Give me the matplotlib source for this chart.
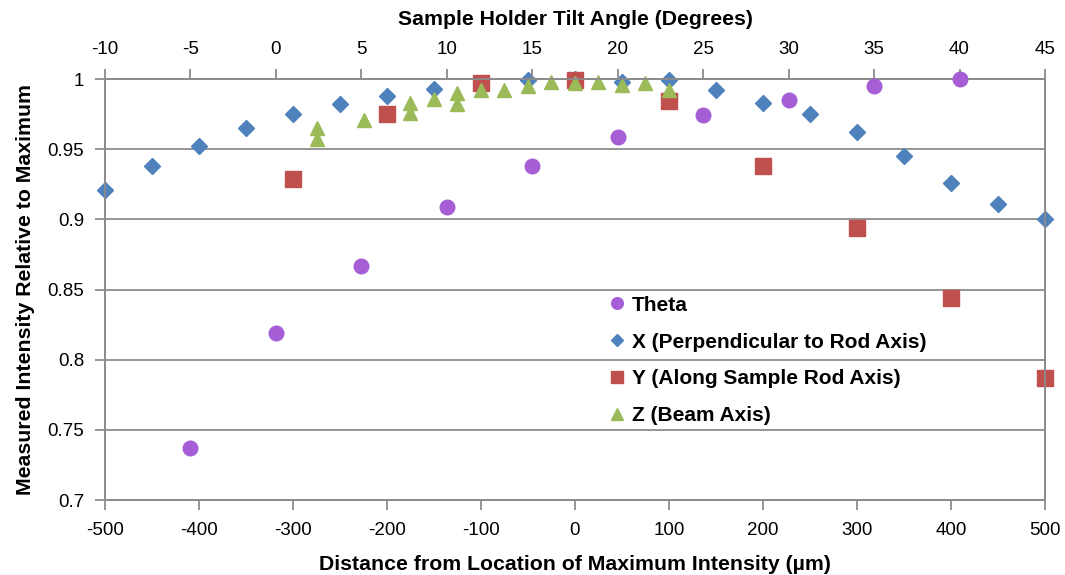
import matplotlib.pyplot as plt

plt.rcParams['font.family'] = ['Liberation Sans', 'DejaVu Sans']
plt.rcParams['axes.unicode_minus'] = False

# Theta scan: tilt angle (degrees) vs relative intensity
theta_angle = [-5, 0, 5, 10, 15, 20, 25, 30, 35, 40]
theta_int = [0.737, 0.819, 0.867, 0.909, 0.938, 0.959, 0.974, 0.985, 0.995, 1.0]

# X scan (perpendicular to rod axis), distance in um
x_pos = [-500, -450, -400, -350, -300, -250, -200, -150, -100, -50, 0,
         50, 100, 150, 200, 250, 300, 350, 400, 450, 500]
x_int = [0.921, 0.938, 0.952, 0.965, 0.975, 0.982, 0.988, 0.993, 0.997, 0.999, 1.0,
         0.998, 0.999, 0.992, 0.983, 0.975, 0.962, 0.945, 0.926, 0.911, 0.900]

# Y scan (along sample rod axis)
y_pos = [-300, -200, -100, 0, 100, 200, 300, 400, 500]
y_int = [0.929, 0.975, 0.997, 0.999, 0.984, 0.938, 0.894, 0.844, 0.787]

# Z scan (beam axis)
z_pos = [-275, -275, -225, -175, -175, -150, -125, -125, -100, -75, -50, -25,
         0, 25, 50, 75, 100]
z_int = [0.965, 0.957, 0.971, 0.983, 0.976, 0.986, 0.990, 0.982, 0.992, 0.992,
         0.995, 0.998, 0.997, 0.998, 0.996, 0.997, 0.992]

y_ticks = [0.7, 0.75, 0.8, 0.85, 0.9, 0.95, 1.0]
y_labels = ['0.7', '0.75', '0.8', '0.85', '0.9', '0.95', '1']

grid_col = '#8c8c8c'

fig = plt.figure(figsize=(10.65, 5.75), dpi=100)
ax = fig.add_axes([0.0986, 0.1304, 0.8826, 0.7322])
ax2 = ax.twiny()

th = ax2.plot(theta_angle, theta_int, 'o', color='#A55ED6', ms=10.5,
              mec='#A55ED6', label='Theta', zorder=3, clip_on=False)
hx = ax.plot(x_pos, x_int, 'D', color='#4F81BD', ms=8.2, mec='#4F81BD',
             label='X (Perpendicular to Rod Axis)', zorder=3, clip_on=False)
hy = ax.plot(y_pos, y_int, 's', color='#C0504D', ms=11, mec='#C0504D',
             label='Y (Along Sample Rod Axis)', zorder=4, clip_on=False)
hz = ax.plot(z_pos, z_int, '^', color='#9BBB59', ms=10.5, mec='#9BBB59',
             label='Z (Beam Axis)', zorder=5, clip_on=False)

ax.set_xlim(-500, 500)
ax.set_ylim(0.7, 1.0)
ax.set_xticks(range(-500, 501, 100))
ax.set_yticks(y_ticks)
ax.set_yticklabels(y_labels)
ax2.set_xlim(-10, 45)
ax2.set_xticks(range(-10, 46, 5))

for t in y_ticks:
    ax.axhline(t, color=grid_col, lw=1.3, zorder=1)

for a in (ax, ax2):
    for s in a.spines.values():
        s.set_color(grid_col)
        s.set_linewidth(1.3)
    a.tick_params(colors=grid_col, labelcolor='black', labelsize=13.5,
                  length=7, width=1.3)
ax.tick_params(axis='y', pad=8)
ax.tick_params(axis='x', pad=9)
ax2.tick_params(axis='x', pad=8)

ax.set_xlabel('Distance from Location of Maximum Intensity (\u00b5m)',
              fontsize=15.3, fontweight='bold', labelpad=11)
ax.set_ylabel('Measured Intensity Relative to Maximum',
              fontsize=15.3, fontweight='bold', labelpad=9)
ax2.set_xlabel('Sample Holder Tilt Angle (Degrees)',
               fontsize=15.3, fontweight='bold', labelpad=12)

handles = th + hx + hy + hz
leg = ax2.legend(handles=handles, loc='upper left',
                 bbox_to_anchor=(0.514, 0.53), frameon=False,
                 prop={'weight': 'bold', 'size': 15},
                 handletextpad=0.2, labelspacing=0.86, handlelength=1.0,
                 markerscale=0.8)

fig.savefig('out.png', dpi=100)
